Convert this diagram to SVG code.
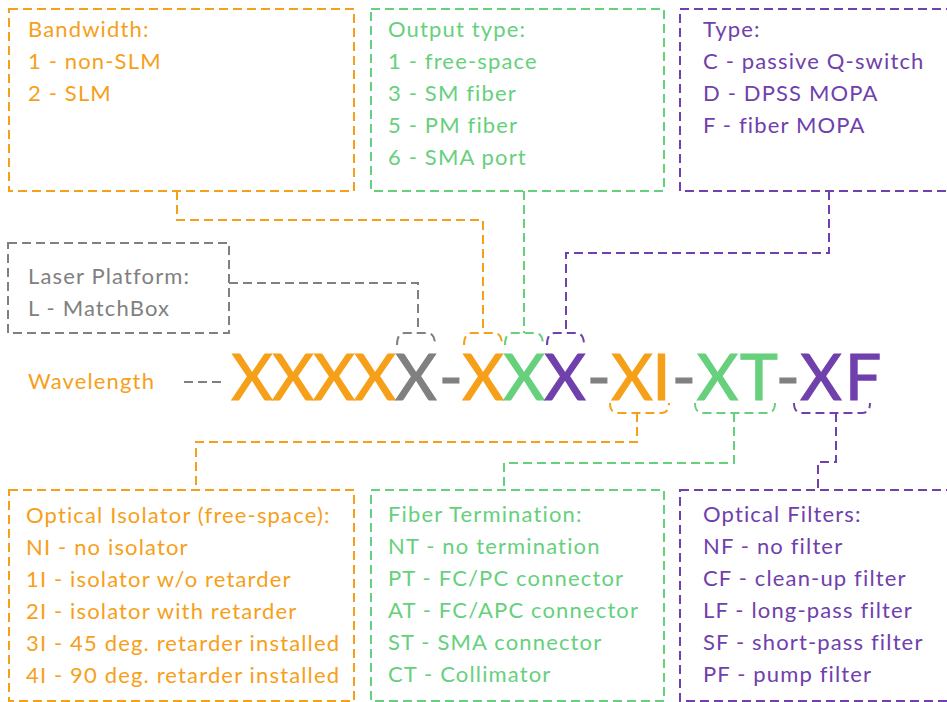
<svg xmlns="http://www.w3.org/2000/svg" width="947" height="702" viewBox="0 0 947 702">
<style>
.t{font-family:Lato,"Noto Sans",sans-serif;font-size:22px;letter-spacing:1.15px}
.big{font-family:Lato,"Noto Sans",sans-serif;font-size:64px;text-anchor:middle;stroke-width:1.2}
.o{fill:#F6A01A}.g{fill:#67D07D}.p{fill:#7040AC}.k{fill:#808080}
.big.o{stroke:#F6A01A}.big.g{stroke:#67D07D}.big.p{stroke:#7040AC}.big.k{stroke:#808080}
.d{fill:none;stroke-width:2;stroke-dasharray:9 5}
.so{stroke:#F6A01A}.sg{stroke:#67D07D}.sp{stroke:#7040AC}.sk{stroke:#808080}
.br{fill:none;stroke-width:2;stroke-dasharray:9 5}
</style>
<rect width="947" height="702" fill="#fff"/>

<g id="bandwidth">
<rect class="d so" x="9" y="9" width="345" height="182"/>
<text class="t o" x="28"><tspan x="28" y="37">Bandwidth:</tspan><tspan x="28" y="69">1 - non-SLM</tspan><tspan x="28" y="101">2 - SLM</tspan></text>
</g>
<g id="output-type">
<rect class="d sg" x="371" y="9" width="293" height="182"/>
<text class="t g"><tspan x="388" y="37">Output type:</tspan><tspan x="388" y="69">1 - free-space</tspan><tspan x="388" y="101">3 - SM fiber</tspan><tspan x="388" y="133">5 - PM fiber</tspan><tspan x="388" y="165">6 - SMA port</tspan></text>
</g>
<g id="type">
<rect class="d sp" x="680" y="9" width="280" height="182"/>
<text class="t p"><tspan x="703" y="37">Type:</tspan><tspan x="703" y="69">C - passive Q-switch</tspan><tspan x="703" y="101">D - DPSS MOPA</tspan><tspan x="703" y="133">F - fiber MOPA</tspan></text>
</g>
<g id="laser-platform">
<rect class="d sk" x="8" y="243" width="221" height="90"/>
<text class="t k"><tspan x="28" y="284">Laser Platform:</tspan><tspan x="28" y="316">L - MatchBox</tspan></text>
</g>
<g id="wavelength">
<text class="t o" x="28" y="389">Wavelength</text>
</g>
<g id="code">
<text class="big o" x="252" y="400">X</text>
<text class="big o" x="293" y="400">X</text>
<text class="big o" x="334" y="400">X</text>
<text class="big o" x="375" y="400">X</text>
<text class="big k" x="416" y="400">X</text>
<text class="big k" x="451" y="400">-</text>
<text class="big o" x="483" y="400">X</text>
<text class="big g" x="524" y="400">X</text>
<text class="big p" x="565" y="400">X</text>
<text class="big k" x="599" y="400">-</text>
<text class="big o" x="632" y="400">X</text>
<text class="big o" x="661.5" y="400">I</text>
<text class="big k" x="684" y="400">-</text>
<text class="big g" x="717.5" y="400">X</text>
<text class="big g" x="759" y="400">T</text>
<text class="big k" x="788" y="400">-</text>
<text class="big p" x="821" y="400">X</text>
<text class="big p" x="863" y="400">F</text>
</g>
<g id="optical-isolator">
<rect class="d so" x="9" y="490" width="345" height="211"/>
<text class="t o"><tspan x="26" y="523">Optical Isolator (free-space):</tspan><tspan x="26" y="555">NI - no isolator</tspan><tspan x="26" y="587">1I - isolator w/o retarder</tspan><tspan x="26" y="619">2I - isolator with retarder</tspan><tspan x="26" y="651">3I - 45 deg. retarder installed</tspan><tspan x="26" y="683">4I - 90 deg. retarder installed</tspan></text>
</g>
<g id="fiber-termination">
<rect class="d sg" x="371" y="490" width="293" height="211"/>
<text class="t g"><tspan x="388" y="522">Fiber Termination:</tspan><tspan x="388" y="554">NT - no termination</tspan><tspan x="388" y="586">PT - FC/PC connector</tspan><tspan x="388" y="618">AT - FC/APC connector</tspan><tspan x="388" y="650">ST - SMA connector</tspan><tspan x="388" y="682">CT - Collimator</tspan></text>
</g>
<g id="optical-filters">
<rect class="d sp" x="680" y="490" width="280" height="211"/>
<text class="t p"><tspan x="703" y="522">Optical Filters:</tspan><tspan x="703" y="554">NF - no filter</tspan><tspan x="703" y="586">CF - clean-up filter</tspan><tspan x="703" y="618">LF - long-pass filter</tspan><tspan x="703" y="650">SF - short-pass filter</tspan><tspan x="703" y="682">PF - pump filter</tspan></text>
</g>

<g id="connectors">
<path class="d sk" d="M184,382 H225"/>
<path class="d sk" d="M229,283 H418 V333"/>
<path class="br sk" d="M397,345 Q397,333 405,333 H427 Q435,333 435,345"/>
<path class="d so" d="M177,191 V220 H483 V333"/>
<path class="br so" d="M464,345 Q464,333 472,333 H494 Q502,333 502,345"/>
<path class="d sg" d="M524,191 V333"/>
<path class="br sg" d="M505,345 Q505,333 513,333 H535 Q543,333 543,345"/>
<path class="d sp" d="M829,191 V253 H566 V333"/>
<path class="br sp" d="M547,345 Q547,333 555,333 H576 Q584,333 584,345"/>
<path class="br so" d="M610,403 Q610,413 618,413 H661 Q669,413 669,403"/>
<path class="d so" d="M637,413 V442 H196 V490"/>
<path class="br sg" d="M695,403 Q695,413 703,413 H767 Q775,413 775,403"/>
<path class="d sg" d="M734,413 V463 H504 V490"/>
<path class="br sp" d="M794,403 Q794,413 802,413 H862 Q870,413 870,403"/>
<path class="d sp" d="M836,413 V462 H818 V490"/>
</g>
</svg>
